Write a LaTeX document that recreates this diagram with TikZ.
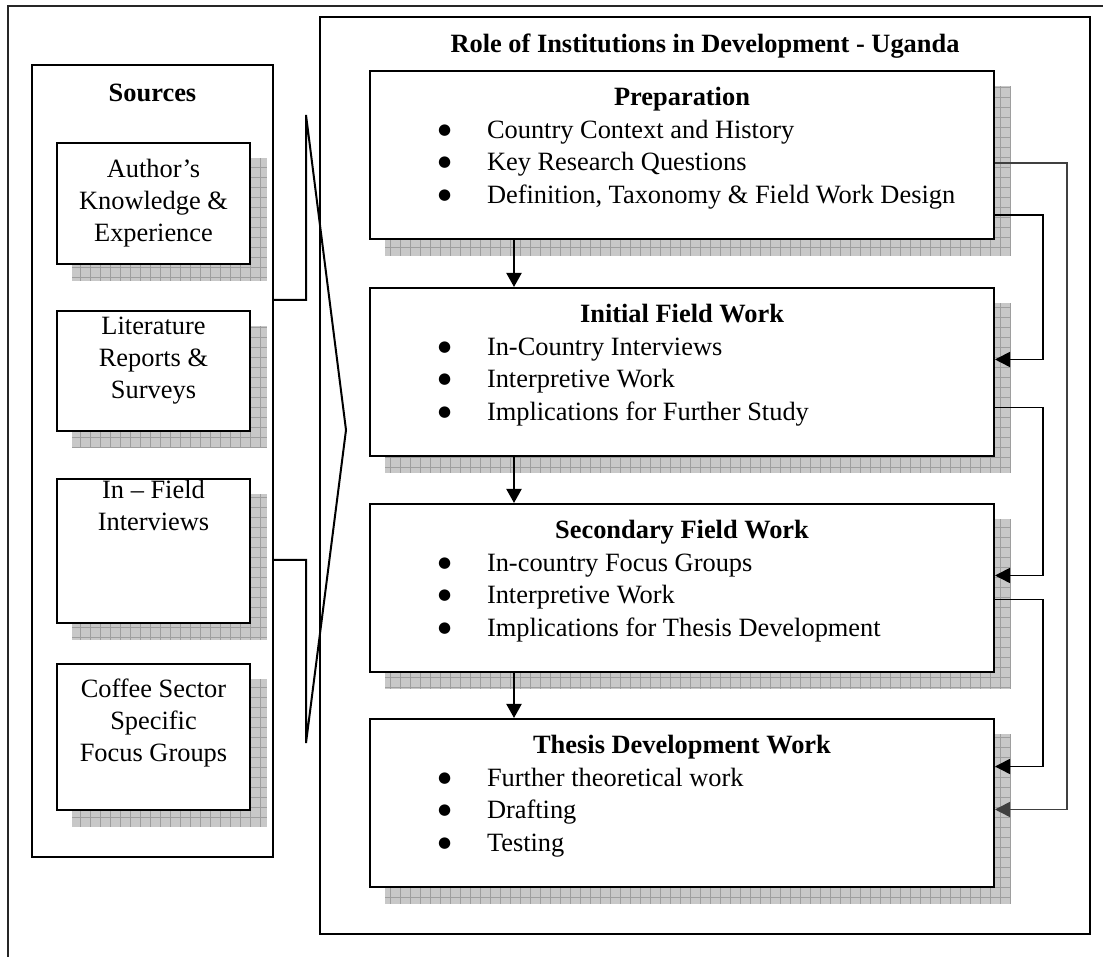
\documentclass[tikz,border=0pt]{standalone}
\usepackage{fontspec}
\setmainfont{Liberation Serif}
\newfontfamily\symfont{DejaVu Sans}
\usetikzlibrary{arrows.meta,backgrounds}

\definecolor{shadowfill}{RGB}{200,200,200}
\definecolor{shadowgrid}{RGB}{158,158,158}

% text of a stage box: bold heading, then bullet lines
\newcommand{\proctext}[2]{\parbox[c][84pt][t]{312pt}{\fontsize{13.2}{16.25}\selectfont
  \centering\rule{0pt}{17.5pt}\textbf{#1}\par\raggedright #2}}
\newcommand{\bitem}[1]{\par\hspace*{34pt}\makebox[24.5pt][l]{\raisebox{2.2pt}{\symfont\fontsize{7.5}{7.5}\selectfont ●}}#1}
% text of a source box
\newcommand{\srctext}[3]{\parbox[c][#1][t]{96.5pt}{\fontsize{13.2}{16}\selectfont
  \centering\rule{0pt}{#2}#3}}

\tikzset{
  frame/.style={draw, line width=1pt, inner sep=0pt},
  srcbox/.style={draw, line width=1pt, fill=white, inner sep=0pt, anchor=north west},
  procbox/.style={draw, line width=1pt, fill=white, inner sep=0pt, anchor=north west},
  flow/.style={-{Triangle[length=7pt,width=7.5pt]}, line width=1pt},
  feedback/.style={-{Triangle[length=7.5pt,width=7.5pt]}, line width=0.8pt},
  brace/.style={line width=1pt, line join=miter},
}

\begin{document}
\begin{tikzpicture}[x=0.5pt, y=0.5pt, font=\fontsize{13.2}{16}\selectfont]
    \useasboundingbox (0,0) rectangle (1103,957);

    % outer page frame
    \draw[line width=0.8pt, black!85] (8,0) -- (8,951) -- (1103,951);

    % Sources column
    \node[frame, minimum width=120.5pt, minimum height=396pt] (sources) at (152.5,496) {};
    \node[anchor=base] (srctitle) at (152.5,855) {\textbf{Sources}};
    \node[srcbox] (author) at (56,815) {\srctext{60.5pt}{17.5pt}{Author’s\\Knowledge \&\\Experience}};
    \node[srcbox] (lit) at (56,647) {\srctext{60pt}{12pt}{Literature\\Reports \&\\Surveys}};
    \node[srcbox] (infield) at (56,479) {\srctext{72pt}{10pt}{In – Field\\Interviews}};
    \node[srcbox] (coffee) at (56,294) {\srctext{73pt}{17pt}{Coffee Sector\\Specific\\Focus Groups}};

    % bracket from sources to the study
    \draw[brace] ([yshift=80.5pt]sources.east) -- ++(32,0) -- ++(0,185) -- ++(40,-315)
        -- ++(-40,-313) -- ++(0,183) -- ([yshift=-49.5pt]sources.east);

    % study frame
    \node[frame, minimum width=385pt, minimum height=458.5pt] (main) at (705,481.5) {};
    \node[anchor=base] (maintitle) at (705,904) {\textbf{Role of Institutions in Development - Uganda}};

    % stages
    \node[procbox] (prep) at (369,887) {\proctext{Preparation}{%
        \bitem{Country Context and History}
        \bitem{Key Research Questions}
        \bitem{Definition, Taxonomy \& Field Work Design}}};
    \node[procbox] (init) at (369,670) {\proctext{Initial Field Work}{%
        \bitem{In-Country Interviews}
        \bitem{Interpretive Work}
        \bitem{Implications for Further Study}}};
    \node[procbox] (second) at (369,454) {\proctext{Secondary Field Work}{%
        \bitem{In-country Focus Groups}
        \bitem{Interpretive Work}
        \bitem{Implications for Thesis Development}}};
    \node[procbox] (thesis) at (369,239) {\proctext{Thesis Development Work}{%
        \bitem{Further theoretical work}
        \bitem{Drafting}
        \bitem{Testing}}};

    % hatched shadows
    \begin{pgfonlayer}{background}
    \foreach \n in {author,lit,infield,coffee,prep,init,second,thesis}{
        \begin{scope}
            \clip ([shift={(8pt,-8pt)}]\n.north west) rectangle ([shift={(8pt,-8pt)}]\n.south east);
            \fill[shadowfill] ([shift={(8pt,-8pt)}]\n.north west) rectangle ([shift={(8pt,-8pt)}]\n.south east);
            \draw[shadowgrid, line width=0.35pt, step=5pt] ([shift={(8pt,-8pt)}]\n.north west) grid ([shift={(8pt,-8pt)}]\n.south east);
        \end{scope}
    }
    \end{pgfonlayer}

    % main flow
    \draw[flow] ([xshift=-84pt]prep.south) -- ([xshift=-84pt]init.north);
    \draw[flow] ([xshift=-84pt]init.south) -- ([xshift=-84pt]second.north);
    \draw[flow] ([xshift=-84pt]second.south) -- ([xshift=-84pt]thesis.north);

    % feedback lines on the right
    \draw[feedback] ([yshift=-30pt]prep.east) -- ++(48,0) |- ([yshift=6.25pt]init.east);
    \draw[feedback] ([yshift=-17.75pt]init.east) -- ++(48,0) |- ([yshift=6.25pt]second.east);
    \draw[feedback] ([yshift=-5.75pt]second.east) -- ++(48,0) |- ([yshift=18.25pt]thesis.east);
    \draw[feedback, black!75] ([yshift=-4pt]prep.east) -- ++(72,0) |- ([yshift=-3.25pt]thesis.east);
\end{tikzpicture}
\end{document}
